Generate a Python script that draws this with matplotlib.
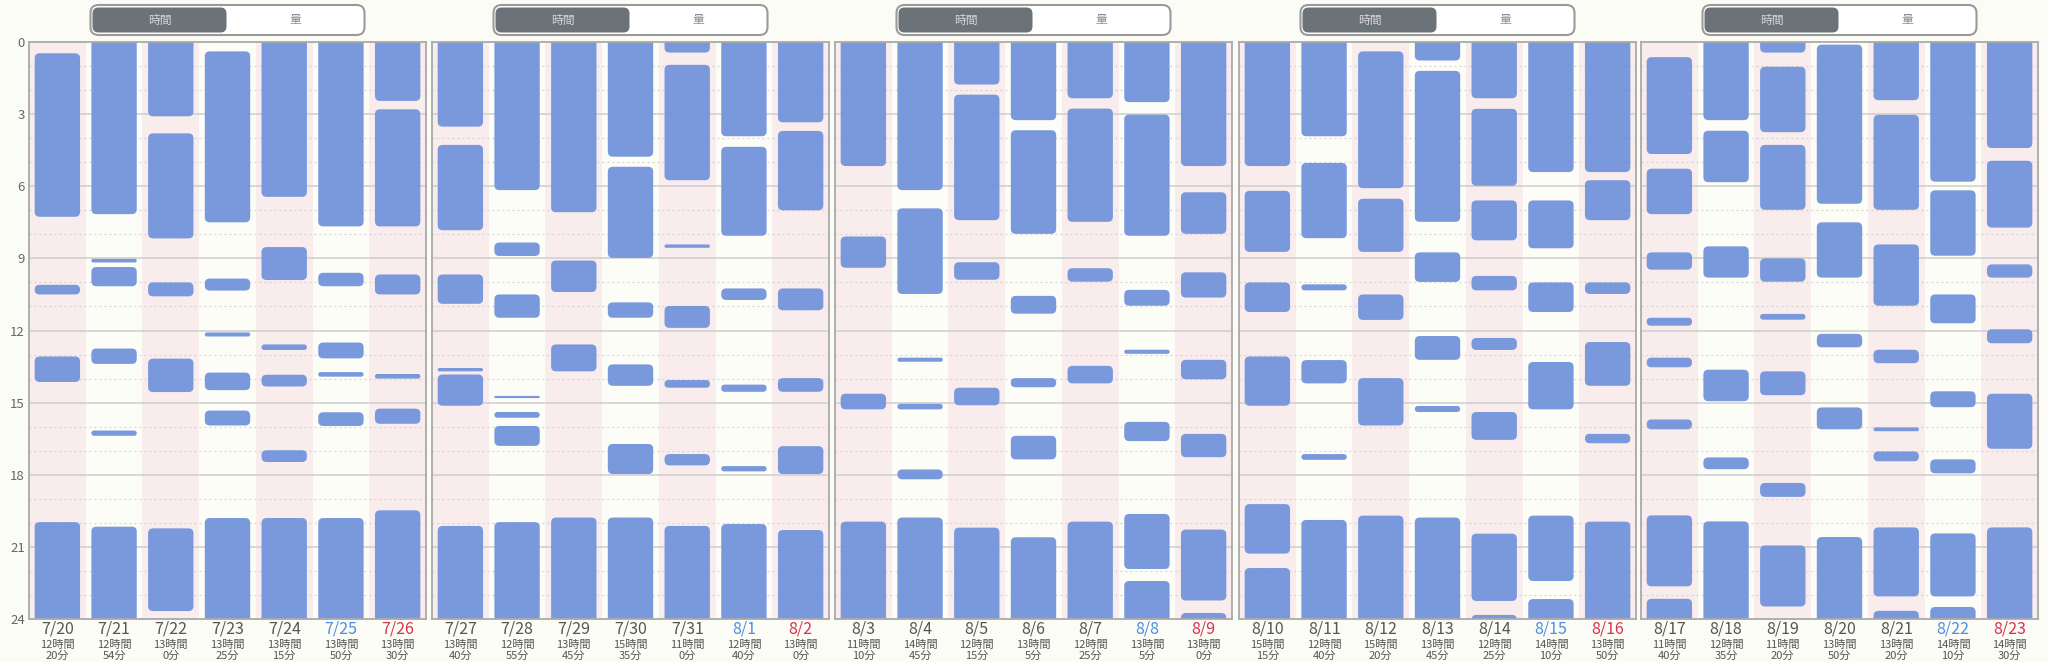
import matplotlib
matplotlib.use("Agg")
import matplotlib.pyplot as plt  # noqa: E402
import matplotlib.transforms as mtransforms  # noqa: E402
from matplotlib.patches import FancyBboxPatch  # noqa: E402

plt.rcParams['font.family'] = ['Noto Sans CJK JP', 'DejaVu Sans']

# ---- data: sleep segments (start hour, end hour) per day, one list per week ----
week1_dates = ["7/20", "7/21", "7/22", "7/23", "7/24", "7/25", "7/26"]
week1_hours = [12, 12, 13, 13, 13, 13, 13]
week1_mins = [20, 54, 0, 25, 15, 50, 30]
week1_sleep = [
    [(0.47, 7.27), (10.1, 10.5), (13.08, 14.14), (19.97, 24)],
    [(0, 7.16), (9.02, 9.17), (9.36, 10.16), (12.75, 13.39), (16.16, 16.38), (20.16, 24)],
    [(0, 3.09), (3.8, 8.17), (10.0, 10.58), (13.17, 14.56), (20.23, 23.67)],
    [(0.39, 7.5), (9.84, 10.34), (12.08, 12.25), (13.75, 14.48), (15.33, 15.95), (19.8, 24)],
    [(0, 6.44), (8.53, 9.9), (12.58, 12.81), (13.84, 14.33), (16.98, 17.47), (19.8, 24)],
    [(0, 7.67), (9.6, 10.16), (12.5, 13.16), (13.73, 13.92), (15.4, 15.97), (19.8, 24)],
    [(0, 2.45), (2.8, 7.67), (9.67, 10.5), (13.81, 14.0), (15.25, 15.88), (19.48, 24)],
]

week2_dates = ["7/27", "7/28", "7/29", "7/30", "7/31", "8/1", "8/2"]
week2_hours = [13, 12, 13, 15, 11, 12, 13]
week2_mins = [40, 55, 45, 35, 0, 40, 0]
week2_sleep = [
    [(0, 3.52), (4.28, 7.83), (9.67, 10.89), (13.56, 13.7), (13.83, 15.13), (20.13, 24)],
    [(0, 6.16), (8.34, 8.9), (10.5, 11.47), (14.72, 14.81), (15.39, 15.63), (15.97, 16.8), (19.97, 24)],
    [(0, 7.08), (9.09, 10.4), (12.58, 13.7), (19.78, 24)],
    [(0, 4.77), (5.19, 8.98), (10.83, 11.47), (13.41, 14.3), (16.72, 17.97), (19.78, 24)],
    [(0, 0.44), (0.95, 5.75), (8.42, 8.56), (10.98, 11.89), (14.06, 14.38), (17.14, 17.61), (20.13, 24)],
    [(0, 3.92), (4.36, 8.06), (10.25, 10.73), (14.25, 14.55), (17.64, 17.86), (20.05, 24)],
    [(0, 3.34), (3.7, 7.0), (10.25, 11.16), (13.98, 14.55), (16.81, 17.97), (20.3, 24)],
]

week3_dates = ["8/3", "8/4", "8/5", "8/6", "8/7", "8/8", "8/9"]
week3_hours = [11, 14, 12, 13, 12, 13, 13]
week3_mins = [10, 45, 15, 5, 25, 5, 0]
week3_sleep = [
    [(0, 5.16), (8.09, 9.39), (14.63, 15.28), (19.95, 24)],
    [(0, 6.16), (6.92, 10.48), (13.13, 13.3), (15.05, 15.28), (17.78, 18.19), (19.78, 24)],
    [(0, 1.77), (2.19, 7.41), (9.16, 9.89), (14.38, 15.11), (20.2, 24)],
    [(0, 3.25), (3.67, 7.98), (10.56, 11.3), (13.98, 14.36), (16.38, 17.36), (20.6, 24)],
    [(0, 2.34), (2.77, 7.48), (9.41, 9.97), (13.47, 14.2), (19.95, 24)],
    [(0, 2.5), (3.02, 8.06), (10.31, 10.97), (12.8, 12.97), (15.8, 16.6), (19.63, 21.92), (22.42, 24)],
    [(0, 5.16), (6.25, 7.98), (9.58, 10.63), (13.22, 14.03), (16.3, 17.27), (20.28, 23.23), (23.75, 24)],
]

week4_dates = ["8/10", "8/11", "8/12", "8/13", "8/14", "8/15", "8/16"]
week4_hours = [15, 12, 15, 13, 12, 14, 13]
week4_mins = [15, 40, 20, 45, 25, 10, 50]
week4_sleep = [
    [(0, 5.16), (6.19, 8.73), (10.0, 11.23), (13.08, 15.13), (19.22, 21.28), (21.88, 24)],
    [(0, 3.92), (5.03, 8.16), (10.08, 10.33), (13.23, 14.2), (17.14, 17.38), (19.88, 24)],
    [(0.39, 6.08), (6.52, 8.73), (10.5, 11.56), (13.98, 15.95), (19.7, 24)],
    [(0, 0.77), (1.2, 7.48), (8.75, 9.98), (12.23, 13.22), (15.14, 15.39), (19.78, 24)],
    [(0, 2.34), (2.78, 5.98), (6.59, 8.25), (9.73, 10.33), (12.31, 12.81), (15.39, 16.55), (20.45, 23.25), (23.83, 24)],
    [(0, 5.41), (6.59, 8.58), (10.0, 11.23), (13.31, 15.28), (19.7, 22.42), (23.17, 24)],
    [(0, 5.41), (5.75, 7.41), (10.0, 10.48), (12.48, 14.3), (16.3, 16.69), (19.95, 24)],
]

week5_dates = ["8/17", "8/18", "8/19", "8/20", "8/21", "8/22", "8/23"]
week5_hours = [11, 12, 11, 13, 13, 14, 14]
week5_mins = [40, 35, 20, 50, 20, 10, 30]
week5_sleep = [
    [(0.63, 4.66), (5.27, 7.16), (8.75, 9.47), (11.47, 11.8), (13.13, 13.53), (15.7, 16.11), (19.69, 22.64), (23.16, 24)],
    [(0, 3.25), (3.69, 5.83), (8.5, 9.8), (13.63, 14.94), (17.28, 17.77), (19.94, 24)],
    [(0, 0.44), (1.03, 3.75), (4.28, 6.98), (9.0, 9.97), (11.31, 11.55), (13.7, 14.69), (18.34, 18.92), (20.94, 23.48)],
    [(0.11, 6.73), (7.5, 9.8), (12.14, 12.7), (15.2, 16.11), (20.59, 24)],
    [(0, 2.42), (3.03, 6.98), (8.42, 10.97), (12.8, 13.36), (16.03, 16.19), (17.03, 17.44), (20.19, 23.06), (23.66, 24)],
    [(0, 5.81), (6.17, 8.89), (10.5, 11.7), (14.53, 15.19), (17.36, 17.94), (20.44, 23.06), (23.5, 24)],
    [(0, 4.41), (4.94, 7.72), (9.25, 9.8), (11.95, 12.53), (14.63, 16.92), (20.19, 24)],
]

weeks = [
    (week1_dates, week1_hours, week1_mins, week1_sleep),
    (week2_dates, week2_hours, week2_mins, week2_sleep),
    (week3_dates, week3_hours, week3_mins, week3_sleep),
    (week4_dates, week4_hours, week4_mins, week4_sleep),
    (week5_dates, week5_hours, week5_mins, week5_sleep),
]

# ---- layout (pixels) ----
W, H = 2048, 662
PANEL_LEFT = [29, 432, 835, 1239, 1641]
PANEL_W = 397
PLOT_TOP, PLOT_BOTTOM = 42, 619

BG = "#fcfcf6"
PINK = "#f9eced"
CREAM = "#fdfdf8"
BAR = "#7596dc"
TEXT = "#555555"
SAT = "#4a8fe0"
SUN = "#d8324f"

fig = plt.figure(figsize=(W / 100, H / 100), dpi=100, facecolor=BG)

# overlay in pixel coordinates for the segmented toggles
overlay = fig.add_axes([0, 0, 1, 1])
overlay.set_xlim(0, W)
overlay.set_ylim(H, 0)
overlay.axis("off")

col_px = PANEL_W / 7
hour_px = (PLOT_BOTTOM - PLOT_TOP) / 24
aspect = col_px / hour_px
radius = 5 / col_px

for k, (dates, hrs, mins, sleep) in enumerate(weeks):
    left = PANEL_LEFT[k]
    ax = fig.add_axes([left / W, 1 - PLOT_BOTTOM / H, PANEL_W / W,
                       (PLOT_BOTTOM - PLOT_TOP) / H])
    ax.set_xlim(0, 7)
    ax.set_ylim(24, 0)
    ax.set_facecolor(CREAM)

    for i in range(7):
        ax.axvspan(i, i + 1, color=PINK if i % 2 == 0 else CREAM, lw=0, zorder=0)
    for h in range(1, 24):
        if h % 3 == 0:
            ax.axhline(h, color="#cdcdcd", lw=1.1, zorder=1)
        else:
            ax.axhline(h, color="#d3d3d3", lw=0.9, ls=(0, (1.5, 2.5)), zorder=1)

    for i, day in enumerate(sleep):
        for s, e in day:
            s0 = s if s > 0 else -0.5
            e0 = e if e < 24 else 24.5
            r = min(radius, 0.5 * (e0 - s0) / aspect)
            ax.add_patch(FancyBboxPatch(
                (i + 0.1, s0), 0.8, e0 - s0,
                boxstyle=f"round,pad=0,rounding_size={r}",
                mutation_aspect=aspect, fc=BAR, ec="none", alpha=0.97, zorder=2))

    for sp in ax.spines.values():
        sp.set_color("#aaaaaa")
        sp.set_linewidth(1.3)
    ax.set_xticks([])
    ax.set_yticks(range(0, 25, 3))
    ax.tick_params(length=0, pad=3, labelsize=9.5, labelcolor="#666666",
                   labelleft=(k == 0))

    trans = mtransforms.blended_transform_factory(ax.transData, ax.transAxes)
    for i, d in enumerate(dates):
        c = SAT if i == 5 else SUN if i == 6 else TEXT
        ax.annotate(d, (i + 0.5, 0), xycoords=trans, xytext=(0, -10),
                    textcoords="offset pixels", ha="center", va="center",
                    fontsize=11.5, color=c)
        ax.annotate(f"{hrs[i]}時間", (i + 0.5, 0), xycoords=trans,
                    xytext=(0, -25.5), textcoords="offset pixels",
                    ha="center", va="center", fontsize=8, color=TEXT)
        ax.annotate(f"{mins[i]}分", (i + 0.5, 0), xycoords=trans,
                    xytext=(0, -36.5), textcoords="offset pixels",
                    ha="center", va="center", fontsize=8, color=TEXT)

    # segmented control above the panel
    cx = left + PANEL_W / 2
    overlay.add_patch(FancyBboxPatch(
        (cx - 137, 5), 274, 30, boxstyle="round,pad=0,rounding_size=8",
        fc="white", ec="#9a9a9a", lw=1.5))
    overlay.add_patch(FancyBboxPatch(
        (cx - 135, 7.5), 134, 25, boxstyle="round,pad=0,rounding_size=6",
        fc="#6b7379", ec="none"))
    overlay.text(cx - 68, 20, "時間", ha="center", va="center",
                 fontsize=8.5, color="#d6d6d6")
    overlay.text(cx + 68, 20, "量", ha="center", va="center",
                 fontsize=8.5, color="#8c8c8c")

fig.savefig("out.png", dpi=100, facecolor=BG)
